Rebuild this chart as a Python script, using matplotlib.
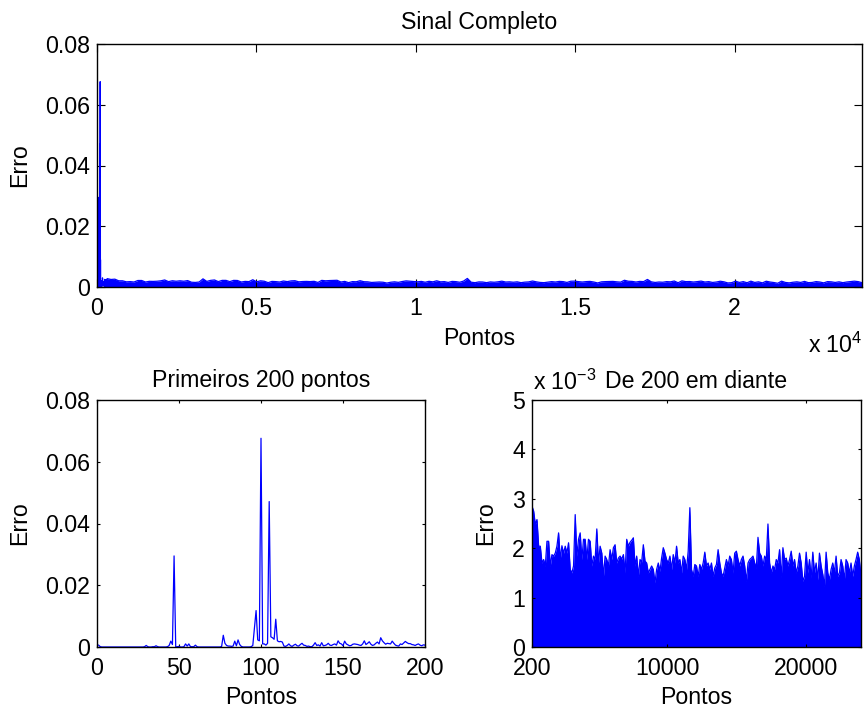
import numpy as np
import matplotlib
matplotlib.use("Agg")
import matplotlib.pyplot as plt
from matplotlib.ticker import FuncFormatter

plt.rcParams['font.family'] = ['Liberation Sans', 'DejaVu Sans']
plt.rcParams['mathtext.fontset'] = 'custom'
plt.rcParams['mathtext.rm'] = 'Liberation Sans'
plt.rcParams['mathtext.it'] = 'Liberation Sans:italic'

# ---- data ----
# error of the first 200 points (index 1..200)
first200 = [
    0.0006, 0.0001, 0.0000, 0.0000, 0.0000, 0.0000, 0.0000, 0.0000, 0.0000, 0.0000,
    0.0000, 0.0000, 0.0000, 0.0000, 0.0000, 0.0000, 0.0000, 0.0000, 0.0000, 0.0000,
    0.0000, 0.0000, 0.0000, 0.0000, 0.0000, 0.0000, 0.0000, 0.0000, 0.0001, 0.0005,
    0.0001, 0.0000, 0.0000, 0.0001, 0.0001, 0.0004, 0.0001, 0.0000, 0.0000, 0.0000,
    0.0000, 0.0000, 0.0001, 0.0005, 0.0019, 0.0008, 0.0295, 0.0000, 0.0001, 0.0002,
    0.0000, 0.0000, 0.0001, 0.0010, 0.0003, 0.0010, 0.0001, 0.0001, 0.0001, 0.0006,
    0.0001, 0.0000, 0.0000, 0.0000, 0.0000, 0.0000, 0.0000, 0.0000, 0.0000, 0.0000,
    0.0000, 0.0000, 0.0000, 0.0000, 0.0000, 0.0002, 0.0038, 0.0012, 0.0005, 0.0003,
    0.0003, 0.0002, 0.0003, 0.0019, 0.0004, 0.0023, 0.0008, 0.0002, 0.0000, 0.0000,
    0.0000, 0.0000, 0.0000, 0.0001, 0.0005, 0.0060, 0.0118, 0.0023, 0.0020, 0.0676,
    0.0010, 0.0010, 0.0006, 0.0012, 0.0471, 0.0033, 0.0030, 0.0025, 0.0090, 0.0020,
    0.0017, 0.0018, 0.0016, 0.0003, 0.0002, 0.0005, 0.0010, 0.0004, 0.0002, 0.0006,
    0.0009, 0.0004, 0.0003, 0.0008, 0.0012, 0.0006, 0.0005, 0.0002, 0.0003, 0.0001,
    0.0001, 0.0006, 0.0014, 0.0005, 0.0007, 0.0003, 0.0014, 0.0004, 0.0005, 0.0007,
    0.0012, 0.0006, 0.0005, 0.0008, 0.0010, 0.0006, 0.0020, 0.0012, 0.0010, 0.0004,
    0.0019, 0.0010, 0.0007, 0.0004, 0.0005, 0.0009, 0.0010, 0.0009, 0.0008, 0.0006,
    0.0005, 0.0010, 0.0020, 0.0008, 0.0012, 0.0017, 0.0009, 0.0005, 0.0007, 0.0012,
    0.0016, 0.0010, 0.0030, 0.0020, 0.0014, 0.0009, 0.0012, 0.0011, 0.0010, 0.0019,
    0.0012, 0.0006, 0.0004, 0.0003, 0.0010, 0.0008, 0.0013, 0.0018, 0.0014, 0.0011,
    0.0011, 0.0008, 0.0007, 0.0005, 0.0008, 0.0010, 0.0006, 0.0004, 0.0007, 0.0006,
]

# envelope of the error from point 200 on (units of 1e-3), read left to right
rest_env = [
    2.85, 2.75, 2.48, 2.58, 2.04, 2.04, 1.70, 1.77, 1.64, 2.14,
    2.14, 1.64, 1.87, 1.84, 1.90, 2.04, 2.31, 1.77, 2.05, 1.90,
    2.04, 1.90, 2.11, 1.57, 1.50, 1.64, 2.68, 1.84, 2.18, 2.31,
    1.77, 2.18, 2.18, 1.77, 2.18, 2.14, 1.64, 1.84, 1.77, 2.39,
    1.70, 2.04, 1.90, 1.43, 1.84, 1.77, 1.64, 1.97, 1.77, 2.01,
    2.07, 1.70, 1.80, 1.84, 1.78, 1.87, 1.50, 2.18, 2.04, 2.12,
    2.16, 2.21, 1.64, 1.84, 1.43, 1.77, 1.72, 2.07, 1.74, 1.70,
    1.50, 1.57, 1.64, 1.57, 1.30, 1.57, 1.70, 1.53, 1.80, 2.01,
    1.90, 1.77, 1.70, 1.84, 1.57, 1.87, 1.70, 2.04, 1.70, 1.77,
    1.50, 1.84, 1.77, 1.57, 1.94, 2.82, 1.57, 1.43, 1.67, 1.64,
    1.43, 1.67, 1.57, 1.70, 1.92, 1.64, 1.70, 1.57, 1.70, 1.43,
    1.60, 1.67, 1.97, 1.70, 1.50, 1.43, 1.60, 1.77, 1.64, 1.84,
    1.77, 1.50, 1.90, 1.94, 1.77, 1.64, 1.77, 1.84, 1.64, 1.33,
    1.70, 1.77, 1.80, 1.84, 1.70, 1.60, 2.22, 1.90, 1.84, 1.64,
    1.84, 1.77, 2.49, 1.70, 1.50, 1.64, 1.57, 1.77, 1.70, 1.97,
    1.40, 2.01, 1.77, 1.80, 1.64, 1.77, 1.94, 1.64, 1.77, 1.50,
    1.64, 1.90, 1.70, 1.33, 1.43, 1.92, 1.50, 1.77, 1.40, 1.92,
    1.50, 1.70, 1.36, 1.90, 1.64, 1.47, 1.23, 1.92, 1.50, 1.36,
    1.57, 1.70, 1.50, 1.84, 1.43, 1.50, 1.77, 1.64, 1.36, 1.77,
    1.70, 1.50, 1.70, 1.43, 1.64, 1.77, 1.92, 1.77, 1.43,
]

n_total = 24000
split = 200

# ---- figure ----
W, H = 864, 711
fig = plt.figure(figsize=(W / 100, H / 100), dpi=100)
FS = 16.7
BLUE = (0, 0, 1)


def box(l, t, r, b):
    return [l / W, (H - b) / H, (r - l) / W, (b - t) / H]


ax_top = fig.add_axes(box(97, 44, 862, 287))
ax_bl = fig.add_axes(box(97, 400, 425, 647))
ax_br = fig.add_axes(box(532, 400, 861, 647))

x1 = np.arange(1, split + 1)
y1 = np.array(first200)
y2 = np.array(rest_env) * 1e-3
x2 = np.linspace(split, n_total, len(y2))

x_all = np.concatenate([x1, x2[1:]])
y_all = np.concatenate([y1, y2[1:]])

lw = 0.9
# top: full signal
ax_top.fill_between(x2, 0, y2, color=BLUE, lw=0)
ax_top.plot(x_all, y_all, color=BLUE, lw=lw)
ax_top.set_xlim(0, n_total)
ax_top.set_ylim(0, 0.08)
ax_top.set_xticks([0, 5000, 10000, 15000, 20000])
ax_top.xaxis.set_major_formatter(FuncFormatter(lambda v, p: f'{v / 1e4:g}'))
ax_top.set_yticks([0, 0.02, 0.04, 0.06, 0.08])
ax_top.yaxis.set_major_formatter(FuncFormatter(lambda v, p: f'{v:g}'))
ax_top.set_title('Sinal Completo', fontsize=FS, pad=11)
ax_top.set_xlabel('Pontos', fontsize=FS)
ax_top.set_ylabel('Erro', fontsize=FS)
ax_top.xaxis.set_label_coords(0.5, -0.165)
ax_top.yaxis.set_label_coords(-0.086, 0.5)
fig.text(863 / W, 1 - 353 / H, r'x $\mathregular{10^{4}}$', fontsize=FS, ha='right', va='baseline')

# bottom left: first 200 points
ax_bl.plot(x1, y1, color=BLUE, lw=lw)
ax_bl.set_xlim(0, 200)
ax_bl.set_ylim(0, 0.08)
ax_bl.set_xticks([0, 50, 100, 150, 200])
ax_bl.set_yticks([0, 0.02, 0.04, 0.06, 0.08])
ax_bl.yaxis.set_major_formatter(FuncFormatter(lambda v, p: f'{v:g}'))
ax_bl.set_title('Primeiros 200 pontos', fontsize=FS, pad=9)
ax_bl.set_xlabel('Pontos', fontsize=FS)
ax_bl.set_ylabel('Erro', fontsize=FS)
ax_bl.xaxis.set_label_coords(0.5, -0.158)
ax_bl.yaxis.set_label_coords(-0.201, 0.5)

# bottom right: from 200 on
ax_br.fill_between(x2, 0, y2, color=BLUE, lw=0)
ax_br.plot(x2, y2, color=BLUE, lw=lw)
ax_br.set_xlim(split, n_total)
ax_br.set_ylim(0, 5e-3)
ax_br.set_xticks([200, 10000, 20000])
ax_br.xaxis.set_major_formatter(FuncFormatter(lambda v, p: f'{v:g}'))
ax_br.set_yticks([0, 1e-3, 2e-3, 3e-3, 4e-3, 5e-3])
ax_br.yaxis.set_major_formatter(FuncFormatter(lambda v, p: f'{v * 1e3:g}'))
ax_br.set_title('De 200 em diante', fontsize=FS, pad=9)
ax_br.set_xlabel('Pontos', fontsize=FS)
ax_br.set_ylabel('Erro', fontsize=FS)
ax_br.xaxis.set_label_coords(0.5, -0.158)
ax_br.yaxis.set_label_coords(-0.106, 0.5)
fig.text(533 / W, 1 - 390 / H, r'x $\mathregular{10^{-3}}$', fontsize=FS, ha='left', va='baseline')

for ax, tl in [(ax_top, 5.5), (ax_bl, 2.5), (ax_br, 2.5)]:
    ax.tick_params(direction='in', top=True, right=True, length=tl, width=0.8,
                   labelsize=FS, pad=5)
    ax.tick_params(axis='x', pad=7)
    for s in ax.spines.values():
        s.set_linewidth(1.0)

fig.savefig('out.png', dpi=100)
